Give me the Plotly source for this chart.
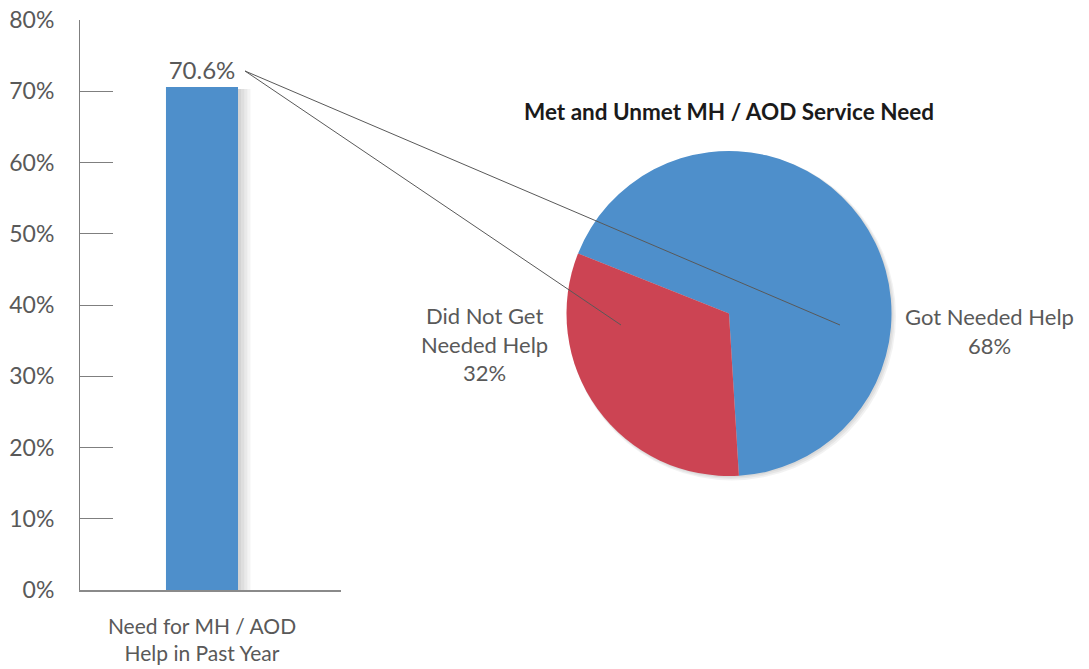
import plotly.graph_objects as go

W, H = 1089, 669

# ---- data ----
bar_categories = ["Need for MH / AOD<br>Help in Past Year"]
bar_values = [70.6]
bar_text = ["70.6%"]

pie_labels = ["Got Needed Help", "Did Not Get<br>Needed Help"]
pie_values = [68, 32]
pie_colors = ["#4E8FCB", "#CC4453"]

y_tickvals = [0, 10, 20, 30, 40, 50, 60, 70, 80]
y_ticktext = [f"{v}%" for v in y_tickvals]

pie_title = "<b>Met and Unmet MH / AOD Service Need</b>"

GREY = "#595959"
FONT = "Lato"
BAR_W = 0.276

def px(x):
    return x / W

def py(y):
    return 1 - y / H

fig = go.Figure()

# soft shadow behind the bar (derived from bar value)
for k in range(1, 5):
    fig.add_shape(type="rect", xref="x", yref="y", layer="below",
                  x0=-BAR_W / 2 + 0.01, x1=BAR_W / 2 + 0.012 * k,
                  y0=-0.25 * k, y1=bar_values[0] - 0.3,
                  fillcolor="rgba(0,0,0,0.045)", line=dict(width=0))

fig.add_trace(go.Bar(
    x=bar_categories, y=bar_values,
    text=bar_text, textposition="outside",
    textfont=dict(size=24, color=GREY, family=FONT),
    marker=dict(color="#4E8FCB", line=dict(width=0)),
    width=BAR_W, cliponaxis=False, showlegend=False, hoverinfo="skip",
))

cx, cy, r = 729, 313.5, 162.5

# soft shadow behind the pie
for k in range(1, 4):
    fig.add_shape(type="circle", xref="paper", yref="paper", layer="below",
                  x0=px(cx - r + 1), x1=px(cx + r + 1.5 * k),
                  y0=py(cy + r + 1.5 * k), y1=py(cy - r + 1),
                  fillcolor="rgba(0,0,0,0.05)", line=dict(width=0))

fig.add_trace(go.Pie(
    labels=pie_labels, values=pie_values,
    marker=dict(colors=pie_colors, line=dict(width=0)),
    sort=False, direction="clockwise", rotation=291.7,
    textinfo="none", hoverinfo="skip", showlegend=False,
    domain=dict(x=[px(cx - r), px(cx + r)], y=[py(cy + r), py(cy - r)]),
))

fig.update_layout(
    width=W, height=H,
    margin=dict(l=0, r=0, t=0, b=0, autoexpand=False),
    paper_bgcolor="white", plot_bgcolor="white",
    font=dict(family=FONT, color=GREY),
    xaxis=dict(
        domain=[px(80), px(341)], range=[-0.4674, 0.5326],
        showline=True, linecolor="#8a8a8a", linewidth=1.5,
        showgrid=False, zeroline=False, ticks="", automargin=False,
        tickfont=dict(size=21, color=GREY, family=FONT),
        ticklabelstandoff=17,
    ),
    yaxis=dict(
        domain=[py(590), py(20)], range=[0, 80],
        tickvals=y_tickvals, ticktext=y_ticktext,
        showline=True, linecolor="#7f7f7f", linewidth=1,
        ticks="inside", ticklen=33, tickwidth=1.3, tickcolor="#7f7f7f",
        showgrid=False, zeroline=False, automargin=False,
        tickfont=dict(size=23, color=GREY, family=FONT),
        ticklabelstandoff=20,
    ),
)

# pie title
fig.add_annotation(x=px(729), y=py(111), xref="paper", yref="paper",
                   xanchor="center", yanchor="middle",
                   text=pie_title, showarrow=False,
                   font=dict(size=22.5, color="#1a1a1a", family=FONT))

# pie labels
fig.add_annotation(x=px(989), y=py(331), xref="paper", yref="paper",
                   xanchor="center", yanchor="middle",
                   text=f"{pie_labels[0]}<br>{pie_values[0]}%", showarrow=False,
                   font=dict(size=22, color=GREY, family=FONT), align="center")
fig.add_annotation(x=px(484), y=py(344), xref="paper", yref="paper",
                   xanchor="center", yanchor="middle",
                   text=f"{pie_labels[1]}<br>{pie_values[1]}%", showarrow=False,
                   font=dict(size=22, color=GREY, family=FONT), align="center")

# leader lines
start = (245, 71)
for end in [(621, 325), (840, 325)]:
    fig.add_shape(type="line", xref="paper", yref="paper",
                  x0=px(start[0]), y0=py(start[1]), x1=px(end[0]), y1=py(end[1]),
                  line=dict(color=GREY, width=1), layer="above")

fig.write_html("out.html", config={"displayModeBar": False},
               post_script="document.body.style.margin='0';document.body.style.overflow='hidden';")
